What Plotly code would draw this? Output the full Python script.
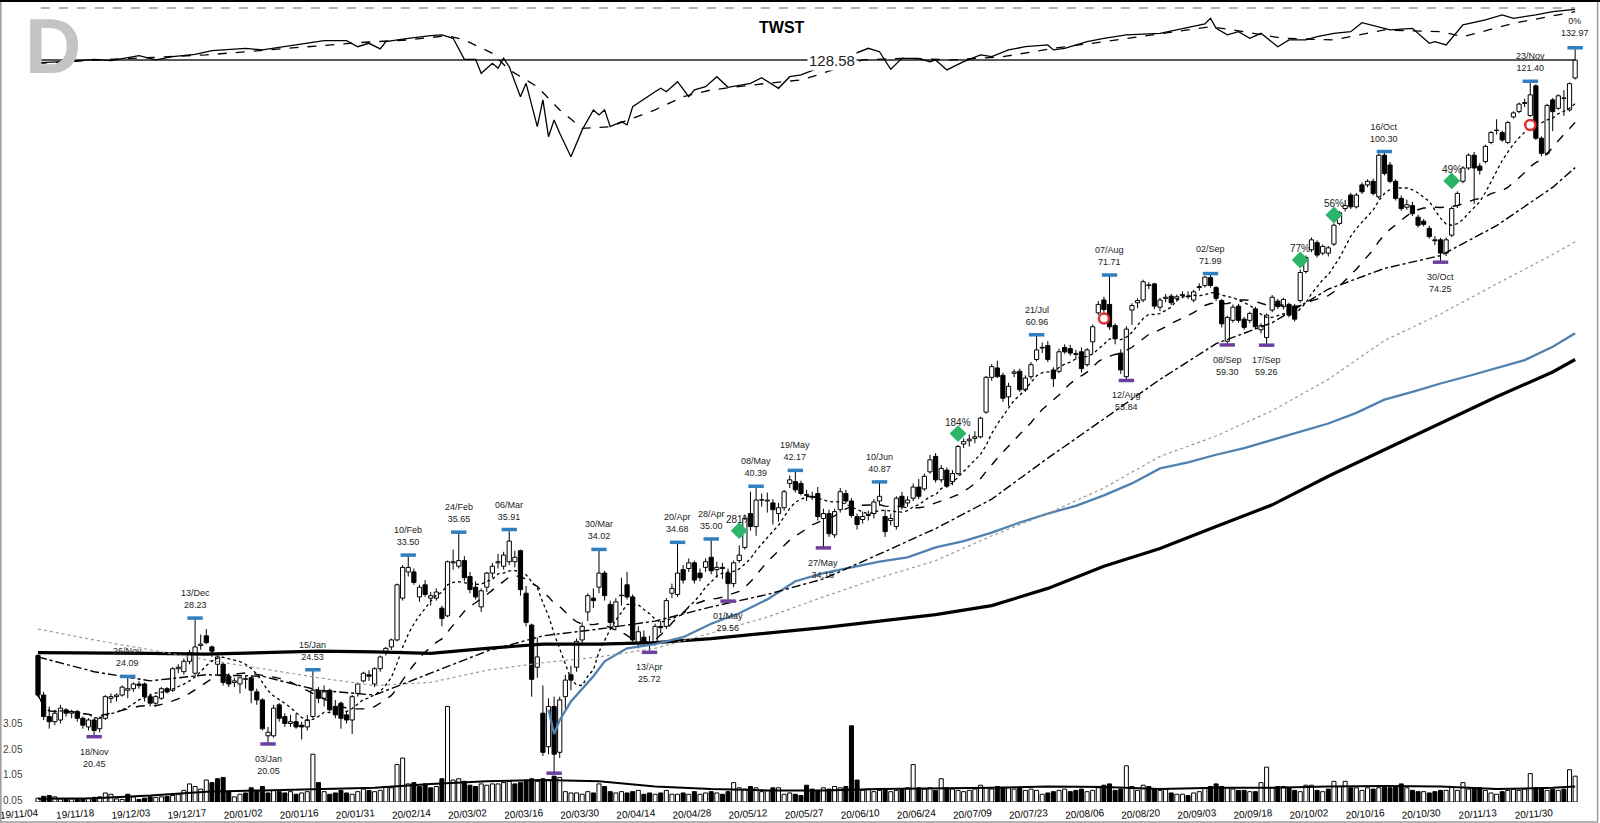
import numpy as np
import pandas as pd
import plotly.graph_objs as go

# trading days, 2019-11-04 .. 2020-12-04
holidays = ['2019-11-28', '2019-12-25', '2020-01-01', '2020-01-20', '2020-02-17',
            '2020-04-10', '2020-05-25', '2020-07-03', '2020-09-07', '2020-11-26']
dates = pd.bdate_range('2019-11-04', '2020-12-04')
dates = dates[~dates.isin(pd.to_datetime(holidays))]

opens = [25.5, 22.9, 21.6, 21.3, 21.4, 22.0, 21.8, 21.9, 21.5, 21.0,
         21.4, 20.9, 21.5, 22.7, 22.8, 22.9, 23.2, 23.3, 23.6, 23.6,
         22.8, 22.4, 22.7, 23.3, 23.2, 24.6, 24.4, 25.1, 24.3, 26.2,
         26.9, 26.1, 24.9, 24.9, 24.1, 23.7, 23.6, 23.9, 24.0, 23.1,
         22.6, 20.5, 20.5, 22.3, 21.6, 21.2, 21.3, 21.1, 21.0, 21.6,
         23.2, 22.7, 23.2, 22.2, 22.4, 21.7, 21.4, 23.0, 23.8, 24.2,
         23.6, 24.6, 25.7, 26.1, 26.6, 29.8, 32.0, 32.0, 29.9, 30.9,
         29.8, 29.8, 29.0, 28.4, 32.8, 32.5, 33.0, 31.6, 30.7, 29.1,
         30.7, 31.9, 32.8, 32.5, 32.9, 32.9, 33.9, 30.2, 27.7, 24.7,
         21.8, 19.9, 22.2, 19.6, 22.8, 24.2, 24.7, 26.6, 28.7, 29.8,
         30.7, 31.9, 29.3, 27.6, 30.0, 30.9, 29.9, 26.4, 26.8, 26.4,
         26.4, 27.6, 27.6, 30.2, 30.1, 32.2, 32.3, 32.8, 31.9, 32.4,
         33.3, 32.2, 32.4, 31.9, 31.0, 33.0, 34.2, 37.5, 36.2, 38.9,
         38.8, 38.6, 37.5, 38.1, 40.7, 40.9, 40.7, 39.5, 39.3, 39.6,
         37.0, 37.5, 35.4, 37.9, 39.6, 38.8, 37.2, 36.9, 37.3, 37.5,
         38.8, 37.2, 36.8, 36.2, 39.3, 38.6, 39.1, 40.3, 40.1, 42.0,
         43.8, 41.1, 42.2, 40.9, 41.8, 45.3, 45.7, 46.0, 46.2, 49.4,
         54.3, 55.7, 54.6, 51.5, 54.9, 55.2, 52.5, 54.4, 57.0, 58.8,
         59.2, 55.4, 55.2, 58.9, 58.7, 57.9, 58.2, 56.2, 59.8, 64.7,
         67.0, 66.2, 62.5, 58.0, 54.4, 65.2, 66.5, 67.0, 69.8, 70.0,
         65.7, 67.3, 67.7, 67.3, 67.8, 67.7, 67.0, 69.3, 69.7, 71.2,
         69.3, 66.9, 59.9, 63.4, 65.9, 63.6, 63.4, 65.4, 61.8, 60.5,
         65.2, 66.8, 65.8, 66.2, 65.9, 66.9, 72.4, 76.8, 78.3, 76.1,
         76.1, 78.0, 82.5, 85.9, 89.1, 86.3, 91.6, 91.6, 92.5, 88.7,
         99.3, 96.7, 92.5, 88.3, 86.2, 86.6, 83.9, 83.0, 81.4, 78.9,
         78.9, 76.1, 79.9, 86.6, 92.5, 95.9, 99.3, 96.4, 97.6, 102.8,
         106.3, 105.6, 102.8, 110.2, 111.8, 114.3, 110.6, 119.9, 104.0, 99.8,
         115.4, 112.8, 116.0, 112.3, 122.5]
highs = [25.6, 23.1, 22.2, 22.0, 22.3, 22.1, 22.0, 22.0, 21.6, 21.5,
         21.5, 21.6, 22.9, 23.0, 23.0, 23.5, 24.09, 23.7, 23.8, 23.7,
         23.0, 22.9, 23.4, 23.4, 24.7, 24.9, 25.3, 25.9, 28.23, 27.0,
         27.4, 26.2, 25.6, 25.0, 24.3, 24.0, 24.0, 24.1, 24.1, 23.3,
         22.7, 21.0, 22.3, 22.4, 21.8, 21.7, 21.8, 21.3, 21.7, 24.53,
         23.4, 23.5, 23.3, 22.6, 22.5, 21.9, 22.9, 23.7, 24.4, 24.5,
         24.7, 25.5, 26.1, 26.7, 31.0, 32.6, 33.50, 32.3, 30.9, 31.3,
         30.3, 30.6, 29.2, 33.0, 34.0, 35.65, 33.4, 32.0, 31.2, 30.6,
         32.0, 32.8, 33.6, 33.8, 35.91, 33.9, 34.0, 30.8, 27.8, 26.8,
         23.5, 22.7, 22.8, 22.8, 24.2, 24.8, 26.7, 27.9, 30.2, 30.6,
         34.02, 32.1, 29.6, 29.8, 31.5, 32.0, 30.1, 27.6, 27.3, 26.9,
         27.8, 28.0, 29.8, 31.0, 34.68, 32.6, 33.2, 33.0, 32.3, 33.2,
         35.00, 32.9, 32.8, 32.3, 33.0, 34.4, 37.4, 39.8, 40.39, 39.6,
         39.7, 39.0, 38.6, 40.0, 41.6, 42.17, 41.0, 40.0, 39.8, 40.3,
         38.0, 37.9, 38.0, 40.2, 40.0, 39.1, 37.5, 37.7, 37.8, 39.0,
         40.87, 37.9, 37.5, 39.3, 39.8, 39.3, 40.7, 41.2, 41.8, 44.0,
         44.2, 42.8, 42.5, 42.2, 45.2, 46.0, 46.5, 46.9, 48.8, 54.5,
         56.3, 56.8, 55.0, 53.5, 55.5, 55.6, 54.6, 56.6, 60.96, 59.7,
         59.9, 55.8, 58.7, 59.4, 59.3, 58.5, 58.9, 58.8, 62.7, 66.8,
         67.6, 71.71, 62.9, 58.6, 62.4, 66.4, 67.3, 70.8, 70.3, 70.2,
         67.4, 68.1, 68.1, 68.0, 68.6, 68.6, 68.9, 70.1, 71.5, 71.99,
         69.6, 67.2, 64.2, 66.2, 66.3, 64.0, 64.9, 65.8, 62.9, 64.6,
         67.9, 67.2, 67.4, 66.5, 66.3, 72.8, 75.6, 79.4, 78.8, 77.9,
         77.6, 82.5, 85.3, 87.9, 89.6, 89.6, 92.2, 93.0, 93.2, 99.8,
         100.30, 97.5, 93.0, 89.0, 88.0, 87.5, 84.5, 83.5, 82.0, 79.7,
         79.3, 79.4, 86.4, 90.0, 96.4, 99.8, 100.2, 97.2, 102.2, 106.1,
         109.5, 106.2, 109.0, 111.9, 114.6, 115.8, 121.40, 120.4, 104.5, 114.2,
         116.0, 117.2, 118.5, 121.0, 132.97]
lows = [22.8, 21.4, 20.9, 21.1, 21.2, 21.6, 21.5, 21.3, 20.9, 20.8,
        20.45, 20.7, 21.4, 22.4, 22.5, 22.8, 22.7, 23.1, 23.3, 22.5,
        22.2, 22.3, 22.6, 23.0, 23.1, 24.3, 24.2, 24.9, 24.1, 25.9,
        26.3, 25.4, 24.2, 23.5, 23.4, 23.4, 23.0, 23.3, 22.4, 22.3,
        20.8, 20.05, 20.4, 21.3, 21.0, 21.0, 20.9, 20.3, 20.8, 21.5,
        22.4, 22.2, 21.9, 21.5, 20.9, 21.2, 20.6, 22.8, 23.7, 23.8,
        23.4, 24.4, 25.5, 25.9, 26.5, 29.6, 31.6, 30.9, 29.5, 29.9,
        29.2, 29.6, 27.6, 28.3, 32.2, 32.3, 31.2, 30.2, 29.7, 28.7,
        30.3, 31.5, 32.3, 32.2, 32.6, 32.4, 30.0, 27.6, 22.8, 24.0,
        19.4, 19.5, 18.52, 19.3, 22.0, 23.2, 24.4, 26.2, 28.0, 29.0,
        30.2, 29.6, 27.5, 27.3, 29.2, 29.7, 26.4, 26.0, 26.2, 25.72,
        26.2, 27.1, 27.4, 29.8, 29.9, 31.0, 32.0, 31.0, 31.2, 32.0,
        31.8, 31.5, 31.4, 29.56, 30.7, 32.8, 34.0, 35.8, 35.3, 38.2,
        37.6, 36.4, 36.7, 37.8, 40.2, 39.7, 39.4, 38.8, 38.9, 36.8,
        34.16, 35.2, 35.1, 37.6, 38.5, 37.1, 35.9, 36.5, 36.8, 37.0,
        38.3, 35.2, 36.3, 35.9, 37.9, 38.2, 38.8, 39.0, 39.9, 41.8,
        40.8, 40.8, 40.2, 40.5, 41.6, 44.8, 45.0, 45.4, 46.0, 49.2,
        53.8, 54.2, 50.8, 50.2, 54.3, 52.2, 52.2, 54.0, 56.7, 58.0,
        56.6, 52.9, 54.9, 57.9, 57.6, 57.0, 55.0, 55.9, 57.9, 64.3,
        64.2, 61.8, 59.4, 54.8, 53.84, 62.6, 65.5, 66.6, 69.0, 65.4,
        65.0, 66.6, 66.1, 66.7, 67.3, 67.2, 66.6, 68.7, 69.3, 69.3,
        66.8, 62.2, 59.30, 63.0, 63.0, 61.8, 62.9, 61.9, 61.2, 59.26,
        64.8, 65.4, 65.3, 63.9, 63.2, 66.5, 72.0, 76.3, 75.2, 75.7,
        75.4, 77.6, 82.1, 85.2, 85.8, 85.9, 89.4, 91.0, 89.0, 88.2,
        94.0, 92.0, 87.8, 85.4, 85.6, 84.2, 81.6, 81.8, 79.2, 77.8,
        74.25, 75.5, 79.5, 86.0, 92.0, 95.4, 87.0, 94.2, 97.1, 102.3,
        105.0, 103.0, 102.3, 109.7, 111.3, 113.2, 110.2, 103.5, 99.0, 99.3,
        106.0, 112.3, 110.5, 111.8, 122.0]
closes = [22.9, 21.6, 21.3, 21.8, 22.1, 21.8, 21.9, 21.5, 21.1, 21.4,
          20.8, 21.5, 22.8, 22.8, 22.9, 23.4, 23.3, 23.6, 23.5, 22.8,
          22.4, 22.8, 23.3, 23.1, 24.6, 24.7, 25.1, 25.7, 26.1, 26.3,
          26.4, 25.8, 25.4, 23.7, 23.6, 23.8, 24.0, 23.9, 23.2, 22.6,
          20.9, 20.7, 22.1, 21.5, 21.2, 21.3, 21.0, 21.0, 21.4, 23.2,
          22.7, 23.1, 22.0, 21.7, 21.5, 21.4, 22.8, 23.6, 24.3, 24.1,
          24.6, 25.4, 26.0, 26.6, 30.9, 32.4, 32.4, 31.1, 30.7, 30.1,
          30.0, 30.3, 28.2, 32.9, 32.9, 33.0, 31.5, 30.5, 29.9, 30.4,
          31.9, 32.5, 32.9, 33.5, 34.8, 33.3, 30.5, 27.9, 23.9, 25.4,
          19.6, 22.2, 19.5, 22.6, 23.85, 23.85, 26.5, 27.6, 30.0, 29.6,
          31.9, 30.0, 27.9, 29.5, 30.0, 29.9, 26.6, 27.2, 26.4, 26.3,
          27.6, 27.5, 29.6, 30.6, 31.9, 31.3, 32.8, 31.3, 31.5, 32.9,
          32.1, 32.4, 32.3, 31.0, 32.8, 33.5, 37.0, 36.2, 38.9, 38.9,
          38.9, 37.9, 38.1, 39.8, 41.1, 40.0, 39.6, 39.4, 39.2, 37.2,
          37.5, 35.5, 37.7, 39.8, 38.8, 37.3, 36.4, 37.2, 37.4, 38.7,
          39.3, 35.7, 37.0, 39.1, 38.3, 38.9, 40.3, 39.3, 41.5, 43.4,
          41.1, 42.4, 40.4, 41.8, 45.0, 45.6, 45.9, 46.2, 48.6, 54.3,
          55.9, 54.4, 51.3, 53.0, 55.1, 52.5, 54.2, 56.2, 58.5, 58.9,
          57.0, 54.1, 58.2, 58.2, 58.0, 57.8, 55.6, 58.5, 62.3, 66.2,
          65.3, 62.3, 60.3, 55.4, 61.9, 66.0, 66.9, 70.4, 69.7, 65.9,
          67.0, 67.5, 66.5, 67.6, 68.0, 67.6, 68.5, 69.5, 71.3, 69.7,
          67.3, 62.8, 63.9, 65.7, 63.4, 62.2, 64.6, 62.3, 62.5, 64.3,
          67.5, 65.8, 67.1, 64.3, 63.6, 72.2, 75.2, 78.9, 75.7, 77.5,
          77.2, 82.1, 84.9, 86.6, 86.3, 89.1, 89.9, 92.5, 89.5, 99.3,
          94.5, 92.5, 88.3, 85.9, 86.8, 84.7, 82.1, 82.3, 79.6, 78.7,
          76.1, 78.9, 85.9, 89.5, 95.9, 99.3, 95.9, 95.3, 101.7, 105.6,
          106.2, 103.5, 108.5, 111.4, 114.1, 114.6, 117.0, 104.0, 99.8, 113.7,
          111.8, 116.7, 115.9, 120.6, 128.58]
volume = [0.15, 0.22, 0.25, 0.2, 0.12, 0.1, 0.12, 0.1, 0.12, 0.15,
          0.18, 0.2, 0.35, 0.3, 0.12, 0.1, 0.3, 0.2, 0.1, 0.15,
          0.2, 0.18, 0.2, 0.22, 0.25, 0.3, 0.45, 0.7, 0.6, 0.5,
          0.85, 0.75, 0.9, 0.95, 0.4, 0.2, 0.3, 0.35, 0.55, 0.45,
          0.6, 0.35, 0.45, 0.4, 0.35, 0.4, 0.3, 0.35, 0.4, 1.85,
          0.75, 0.4, 0.3, 0.35, 0.45, 0.35, 0.3, 0.4, 0.5, 0.45,
          0.4, 0.45, 0.6, 0.55, 1.45, 1.7, 0.7, 0.75, 0.6, 0.7,
          0.55, 0.6, 0.9, 3.7, 0.85, 0.9, 0.8, 0.65, 0.6, 0.7,
          0.65, 0.7, 0.7, 0.75, 0.8, 0.7, 0.75, 0.85, 0.9, 0.8,
          0.9, 0.85, 1.0, 0.95, 0.4, 0.35, 0.35, 0.3, 0.4, 0.35,
          0.7, 0.6, 0.4, 0.35, 0.4, 0.35, 0.4, 0.45, 0.3, 0.35,
          0.3, 0.35, 0.45, 0.3, 0.3, 0.35, 0.3, 0.4, 0.3, 0.35,
          0.4, 0.35, 0.3, 0.4, 0.75, 0.55, 0.5, 0.6, 0.55, 0.4,
          0.45, 0.55, 0.55, 0.3, 0.35, 0.3, 0.25, 0.65, 0.5, 0.45,
          0.55, 0.5, 0.6, 0.55, 0.6, 2.95, 0.85, 0.45, 0.5, 0.4,
          0.45, 0.5, 0.4, 0.45, 0.5, 0.55, 1.45, 0.55, 0.5, 0.55,
          0.45, 0.9, 0.55, 0.5, 0.45, 0.4, 0.45, 0.5, 0.65, 0.55,
          0.5, 0.6, 0.55, 0.55, 0.5, 0.55, 0.45, 0.5, 0.45, 0.3,
          0.35, 0.4, 0.45, 0.5, 0.4, 0.45, 0.5, 0.4, 0.45, 0.55,
          0.65, 0.7, 0.45, 0.5, 1.4, 0.6, 0.45, 0.65, 0.6, 0.5,
          0.45, 0.5, 0.35, 0.3, 0.3, 0.25, 0.35, 0.4, 0.55, 0.6,
          0.7, 0.6, 0.55, 0.5, 0.45, 0.45, 0.4, 0.4, 0.75, 1.35,
          0.55, 0.6, 0.6, 0.55, 0.45, 0.4, 0.65, 0.65, 0.45, 0.4,
          0.5, 0.8, 0.6, 0.8, 0.55, 0.55, 0.45, 0.55, 0.5, 0.55,
          0.6, 0.55, 0.6, 0.7, 0.55, 0.45, 0.4, 0.4, 0.35, 0.4,
          0.45, 0.45, 0.6, 0.45, 0.75, 0.5, 0.5, 0.55, 0.45, 0.35,
          0.3, 0.4, 0.45, 0.5, 0.45, 0.5, 1.1, 0.55, 0.5, 0.45,
          0.5, 0.45, 0.5, 1.25, 1.0]

# longer averages every 10 sessions
ma_bars = [0, 10, 20, 30, 40, 50, 60, 70, 80, 90, 100, 110, 120, 130, 140,
           150, 160, 170, 180, 190, 200, 210, 220, 230, 240, 250, 260, 270, 274]
ma50 = [25.4, 24.4, 23.8, 24.2, 24.1, 23.2, 22.9, 24.3, 25.8, 26.9, 27.4, 28.0, 29.1, 30.1, 31.4,
        33.6, 36.0, 39.0, 43.6, 48.5, 54.0, 59.5, 63.0, 69.0, 73.0, 75.6, 82.0, 91.0, 96.0]
ma_gray = [27.4, 26.6, 25.9, 25.2, 24.6, 24.0, 23.5, 23.7, 24.5, 25.0, 25.4, 26.0, 27.1, 28.3, 29.9,
           31.5, 33.0, 35.3, 37.5, 40.2, 43.8, 46.3, 49.6, 54.0, 60.0, 64.5, 70.0, 75.8, 78.5]
ma200 = [25.7, 25.7, 25.65, 25.6, 25.7, 25.8, 25.75, 25.65, 26.0, 26.3, 26.3, 26.4, 26.7, 27.1, 27.5,
         28.0, 28.5, 29.2, 30.6, 32.5, 34.1, 36.2, 38.4, 41.5, 44.6, 48.0, 51.5, 55.1, 57.0]
blue_bars = [91, 92, 93, 95, 99, 101, 105, 110, 115, 120, 125, 130, 135, 140, 145, 150, 155, 160, 165,
             170, 175, 180, 185, 190, 195, 200, 205, 210, 215, 220, 225, 230, 235, 240, 245, 250,
             255, 260, 265, 270, 274]
blue_line = [22.0, 20.6, 21.4, 22.5, 24.1, 25.1, 26.0, 26.3, 26.8, 27.8, 28.6, 29.7, 31.2, 31.9, 32.4, 32.9,
             33.3, 34.2, 34.8, 35.6, 36.6, 37.5, 38.3, 39.4, 40.7, 42.4, 43.1, 44.0, 44.8, 45.8,
             46.8, 47.9, 49.3, 51.1, 52.2, 53.4, 54.5, 55.7, 56.9, 59.0, 61.2]
vol_avg = [0.13, 0.15, 0.25, 0.4, 0.45, 0.5, 0.55, 0.7, 0.8, 0.85, 0.8, 0.6, 0.5, 0.45, 0.45,
           0.5, 0.52, 0.55, 0.6, 0.58, 0.5, 0.55, 0.55, 0.6, 0.62, 0.6, 0.5, 0.55, 0.6]

# relative strength line (index) and its average
rs_bars = [0, 5, 10, 13, 18, 21, 24, 28, 31, 37, 40, 44, 48, 51, 55, 57, 59, 61, 62, 66,
           70, 72, 74, 76, 78, 79, 81, 82, 83, 84, 86, 87, 89, 90, 91, 92, 93, 95, 97, 99,
           100, 101, 102, 104, 105, 106, 110, 111, 112, 114, 116, 117, 119, 121, 123, 127, 129, 132, 134, 136,
           139, 147, 148, 150, 152, 154, 157, 159, 160, 162, 165, 168, 170, 173, 176, 180, 181, 183, 187, 190,
           194, 200, 203, 206, 208, 209, 210, 212, 214, 216, 218, 221, 223, 226, 228, 231, 234, 236, 239, 241,
           245, 248, 249, 251, 254, 258, 261, 263, 267, 270, 274]
rs_vals = [100.0, 100.5, 101.7, 101.0, 103.5, 101.4, 103.0, 104.2, 106.0, 107.2, 106.4, 108.0, 109.7, 111.0, 111.0, 108.0, 109.7, 106.9, 110.5, 112.2,
           113.5, 113.9, 112.2, 101.7, 101.7, 94.7, 99.7, 97.2, 102.2, 98.0, 83.0, 89.7, 68.0, 81.4, 63.0, 71.4, 64.7, 53.0, 66.4, 76.4,
           73.9, 76.4, 68.0, 70.5, 68.9, 78.0, 85.5, 87.2, 85.5, 90.5, 83.0, 86.4, 88.0, 93.0, 87.7, 89.7, 92.5, 87.2, 93.0, 93.9,
           97.2, 106.4, 107.2, 105.5, 96.7, 102.2, 102.2, 100.5, 101.4, 96.4, 100.5, 103.9, 103.0, 106.4, 108.0, 108.9, 106.4, 107.2, 110.5, 112.2,
           113.9, 114.7, 116.4, 118.4, 119.4, 122.2, 117.2, 113.9, 115.5, 112.2, 114.7, 108.0, 111.4, 111.4, 113.0, 114.7, 115.5, 120.0, 118.0, 116.4,
           117.2, 109.7, 110.5, 108.9, 118.9, 121.4, 123.9, 122.2, 123.9, 125.5, 126.7]
rsma_bars = [0, 11, 30, 48, 57, 66, 73, 76, 81, 84, 89, 93, 97, 102, 110, 115, 120, 130, 136, 139,
             147, 154, 163, 172, 181, 190, 199, 209, 215, 222, 231, 240, 250, 254, 263, 274]
rsma_vals = [99.7, 101.4, 103.9, 108.0, 110.0, 111.4, 113.5, 111.4, 104.7, 96.4, 88.0, 76.4, 67.2, 68.0, 76.4, 83.0, 86.4, 89.7, 91.4, 93.9,
             101.4, 102.2, 101.4, 103.0, 107.2, 110.5, 113.9, 118.0, 115.5, 112.2, 111.4, 116.4, 115.5, 113.0, 119.7, 125.5]

high_bars = [16, 28, 49, 66, 75, 84, 100, 114, 120, 128, 135, 150, 178, 191, 209, 240, 266]
low_bars = [10, 41, 109, 123, 140, 194, 212, 219, 250]
crash_low_bar = 92
signal_bars = [125, 164, 225, 231, 252]
signal_prices = [35.8, 46.6, 74.7, 84.4, 92.6]
signal_text = ['281%', '184%', '77%', '56%', '49%']
circle_bars = [190, 266]
circle_prices = [63.7, 107.8]

n = len(closes)
x = np.arange(n)
o = np.array(opens)
c = np.array(closes)
h = np.array(highs)
l = np.array(lows)
top = np.maximum(o, c)
bot = np.minimum(o, c)
close_s = pd.Series(closes)
ma10 = close_s.rolling(10, min_periods=1).mean()
ma21 = close_s.rolling(21, min_periods=1).mean()
prev = close_s.shift(1).fillna(close_s.iloc[0])
vol_colors = ['white' if u else 'black' for u in (close_s >= prev).values]
body_colors = ['white' if cc >= oo else 'black' for oo, cc in zip(opens, closes)]

# wick pieces above and below each body
wx, wy = [], []
for i in range(n):
    wx += [i, i, None, i, i, None]
    wy += [h[i], top[i], None, bot[i], l[i], None]

LBL = 'Liberation Sans, Arial, sans-serif'
fig = go.Figure()

fig.add_trace(go.Bar(x=x, y=volume, yaxis='y2', width=0.72,
                     marker=dict(color=vol_colors, line=dict(color='black', width=1))))
fig.add_trace(go.Scatter(x=ma_bars, y=vol_avg, yaxis='y2', mode='lines',
                         line=dict(color='black', width=2)))

fig.add_trace(go.Bar(x=x, y=np.maximum(top - bot, 0.04), base=bot, width=0.75,
                     marker=dict(color=body_colors, line=dict(color='black', width=1))))
fig.add_trace(go.Scatter(x=wx, y=wy, mode='lines', line=dict(color='black', width=1)))

fig.add_trace(go.Scatter(x=ma_bars, y=ma200, mode='lines', line=dict(color='black', width=3.2)))
fig.add_trace(go.Scatter(x=blue_bars, y=blue_line, mode='lines', line=dict(color='#4f81b0', width=2.3)))
fig.add_trace(go.Scatter(x=ma_bars, y=ma_gray, mode='lines', line=dict(color='#9a9a9a', width=1.2, dash='dot')))
fig.add_trace(go.Scatter(x=ma_bars, y=ma50, mode='lines', line=dict(color='black', width=1.4, dash='dashdot')))
fig.add_trace(go.Scatter(x=x, y=ma21, mode='lines', line=dict(color='black', width=1.4, dash='dash')))
fig.add_trace(go.Scatter(x=x, y=ma10, mode='lines', line=dict(color='black', width=1.3, dash='dot')))

# last close level line
fig.add_trace(go.Scatter(x=[0, n - 1], y=[closes[-1], closes[-1]], mode='lines',
                         line=dict(color='#222222', width=1.5)))

fig.add_trace(go.Scatter(x=high_bars + [n - 1], y=[highs[i] for i in high_bars] + [highs[-1]],
                         mode='markers', marker=dict(symbol='line-ew', size=11,
                                                     line=dict(color='#2f7fc1', width=3.5))))
fig.add_trace(go.Scatter(x=low_bars + [crash_low_bar], y=[lows[i] for i in low_bars] + [lows[crash_low_bar]],
                         mode='markers', marker=dict(symbol='line-ew', size=11,
                                                     line=dict(color='#6f3fa0', width=3.5))))
fig.add_trace(go.Scatter(x=signal_bars, y=signal_prices, mode='markers',
                         marker=dict(symbol='diamond', size=13, color='#2db46b')))
fig.add_trace(go.Scatter(x=circle_bars, y=circle_prices, mode='markers',
                         marker=dict(symbol='circle', size=10, color='white',
                                     line=dict(color='#e03030', width=2.5))))

fig.add_trace(go.Scatter(x=rsma_bars, y=rsma_vals, yaxis='y3', mode='lines',
                         line=dict(color='black', width=1.3, dash='dash')))
fig.add_trace(go.Scatter(x=rs_bars, y=rs_vals, yaxis='y3', mode='lines',
                         line=dict(color='black', width=1.3)))

ann = []
for i in high_bars:
    ann.append(dict(x=i, y=np.log10(highs[i]), xref='x', yref='y', yanchor='bottom', yshift=6,
                    text=dates[i].strftime('%d/%b') + '<br>' + f'{highs[i]:.2f}', showarrow=False,
                    font=dict(size=9, color='#222', family=LBL)))
ann.append(dict(x=n - 1, y=np.log10(highs[-1]), xref='x', yref='y', yanchor='bottom', yshift=8,
                text='0%<br>' + f'{highs[-1]:.2f}', showarrow=False,
                font=dict(size=9, color='#222', family=LBL)))
for i in low_bars:
    ann.append(dict(x=i, y=np.log10(lows[i]), xref='x', yref='y', yanchor='top', yshift=-8,
                    text=dates[i].strftime('%d/%b') + '<br>' + f'{lows[i]:.2f}', showarrow=False,
                    font=dict(size=9, color='#222', family=LBL)))
for b, p, t in zip(signal_bars, signal_prices, signal_text):
    ann.append(dict(x=b, y=np.log10(p), xref='x', yref='y', yanchor='bottom', yshift=4,
                    text=t, showarrow=False, font=dict(size=10, color='#222', family=LBL)))
ann.append(dict(x=141.5, y=np.log10(closes[-1]), xref='x', yref='y', text=f'{closes[-1]:.2f}',
                showarrow=False, bgcolor='white', font=dict(size=15, color='#222', family=LBL)))
ann.append(dict(x=0.4888, y=0.9657, xref='paper', yref='paper', xanchor='center', yanchor='middle',
                text='<b>TWST</b>', showarrow=False, font=dict(size=16, color='black', family=LBL)))
ann.append(dict(x=0.0330, y=0.943, xref='paper', yref='paper', xanchor='center', yanchor='middle',
                text='<b>D</b>', showarrow=False, font=dict(size=78, color='#c4c4c4', family=LBL)))

tick_idx = list(range(0, n, 10))
fig.update_layout(
    width=1600, height=823,
    margin=dict(l=0, r=0, t=0, b=21),
    plot_bgcolor='white', paper_bgcolor='white',
    showlegend=False, barmode='overlay',
    annotations=ann,
    xaxis=dict(range=[-6.774, 278.43], tickvals=tick_idx,
               ticktext=[dates[i].strftime('%y/%m/%d') for i in tick_idx],
               tickangle=-4, tickfont=dict(size=10, color='black', family=LBL),
               ticklabelstandoff=3, ticklabeloverflow='allow',
               showgrid=False, zeroline=False, showline=False, ticks=''),
    yaxis=dict(type='log', range=[np.log10(17.125), np.log10(151.4)], showgrid=False,
               zeroline=False, showticklabels=False, ticks=''),
    yaxis2=dict(overlaying='y', side='left', range=[0, 31.05],
                tickvals=[0.05, 1.05, 2.05, 3.05], ticktext=['0.05', '1.05', '2.05', '3.05'],
                ticklabelposition='inside', ticklabeloverflow='allow', ticks='',
                showgrid=False, zeroline=False,
                tickfont=dict(size=10, color='#444', family=LBL)),
    yaxis3=dict(overlaying='y', range=[-269.65, 131.35], visible=False),
    shapes=[
        dict(type='line', xref='x', yref='paper', x0=0.5, x1=n - 1, y0=0.990, y1=0.990,
             line=dict(color='#999999', width=1.3, dash='dash')),
        dict(type='rect', xref='paper', yref='paper', x0=0.0005, x1=0.9985, y0=-0.0249, y1=0.9988,
             line=dict(color='#9a9a9a', width=1.5)),
        dict(type='line', xref='paper', yref='paper', x0=0, x1=1, y0=0.9988, y1=0.9988,
             line=dict(color='black', width=2)),
    ],
)

fig.write_html('out.html', config={'displayModeBar': False},
               post_script="document.body.style.margin='0';")
